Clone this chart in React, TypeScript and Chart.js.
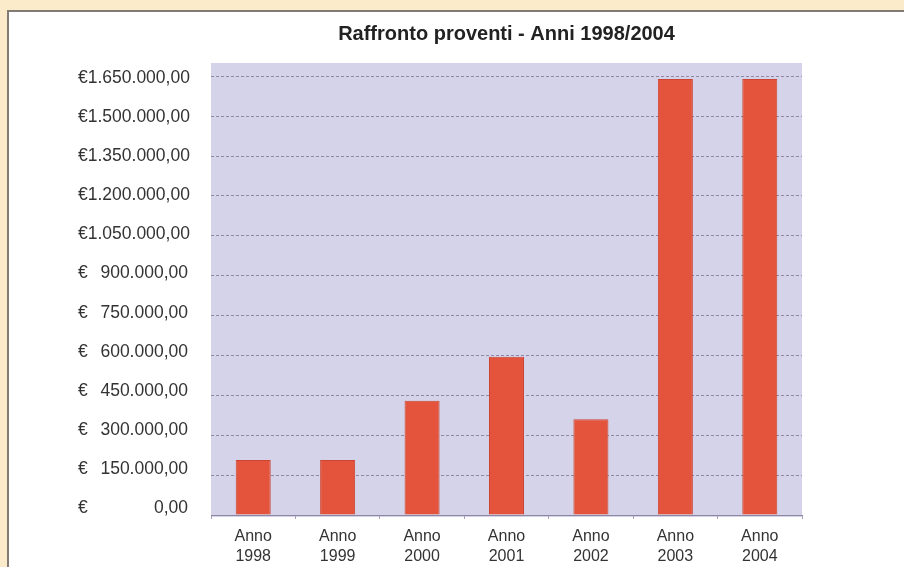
import React, { useEffect, useRef } from "react";
import { Chart, registerables } from "chart.js";

Chart.register(...registerables);

const TITLE = "Raffronto proventi - Anni 1998/2004";
const LABEL_PREFIX = "Anno";
const YEARS = ["1998", "1999", "2000", "2001", "2002", "2003", "2004"];
const VALUES = [207000, 207000, 430000, 595000, 360000, 1640000, 1640000];
const TICK_VALUES = [0, 150000, 300000, 450000, 600000, 750000, 900000, 1050000, 1200000, 1350000, 1500000, 1650000];
const Y_MAX = 1700000;
const LABEL_AXIS_MIN = -26900;
const LABEL_AXIS_MAX = 1708800;

const FONT = "'Liberation Sans', Arial, sans-serif";

function fmtIt(v: number): string {
  const s = Math.round(v).toString();
  return s.replace(/\B(?=(\d{3})+(?!\d))/g, ".") + ",00";
}

const setTicks = (scale: any) => {
  scale.ticks = TICK_VALUES.map((v) => ({ value: v }));
};

const plotBg = {
  id: "plotBg",
  beforeDraw(chart: any) {
    const { ctx, chartArea } = chart;
    if (!chartArea) return;
    ctx.save();
    ctx.fillStyle = "#d5d3e9";
    ctx.fillRect(chartArea.left, chartArea.top, chartArea.right - chartArea.left, chartArea.bottom - chartArea.top + 2);
    ctx.restore();
  },
};

export default function App() {
  const ref = useRef<HTMLCanvasElement | null>(null);

  useEffect(() => {
    if (!ref.current) return;
    const chart = new Chart(ref.current, {
      type: "bar",
      data: {
        labels: YEARS.map((y) => [LABEL_PREFIX, y]),
        datasets: [
          {
            data: VALUES,
            backgroundColor: "#e4533b",
            borderColor: "#cc4532",
            borderWidth: 1,
            barPercentage: 0.415,
            categoryPercentage: 1,
          },
        ],
      },
      options: {
        animation: false,
        responsive: false,
        layout: { padding: { left: 69, right: 102, top: 0, bottom: 0 } },
        plugins: {
          legend: { display: false },
          tooltip: { enabled: false },
          title: {
            display: true,
            text: TITLE,
            fullSize: false,
            align: "center",
            color: "#222222",
            font: { family: FONT, size: 20, weight: "bold", lineHeight: 1.2 },
            padding: { top: 10, bottom: 17 },
          },
        },
        scales: {
          x: {
            type: "category",
            grid: {
              display: true,
              drawOnChartArea: false,
              offset: true,
              tickLength: 4,
              color: "#a8a2b8",
            },
            border: { display: true, color: "#8d88a0" },
            ticks: {
              color: "#333333",
              font: { family: FONT, size: 16, lineHeight: 1.25 },
              padding: 8,
              maxRotation: 0,
              autoSkip: false,
            },
            afterFit: (s: any) => {
              s.height = 52;
            },
          },
          y: {
            type: "linear",
            position: "left",
            weight: 0,
            min: 0,
            max: Y_MAX,
            afterBuildTicks: setTicks,
            grid: { display: true, drawTicks: false, color: "#8f87a4", lineWidth: 1 },
            border: { display: false, dash: [3, 2] },
            ticks: { display: false },
            afterFit: (s: any) => {
              s.width = 0;
            },
          },
          yNum: {
            type: "linear",
            position: "left",
            weight: 1,
            min: LABEL_AXIS_MIN,
            max: LABEL_AXIS_MAX,
            afterBuildTicks: setTicks,
            grid: { display: false, drawTicks: false },
            border: { display: false },
            ticks: {
              color: "#333333",
              font: { family: FONT, size: 17.5 },
              padding: 23,
              callback: (value: any) => (Number(value) >= 1000000 ? "" : fmtIt(Number(value))),
            },
            afterFit: (s: any) => {
              s.width = 121;
            },
          },
          yEur: {
            type: "linear",
            position: "left",
            weight: 2,
            min: LABEL_AXIS_MIN,
            max: LABEL_AXIS_MAX,
            afterBuildTicks: setTicks,
            grid: { display: false, drawTicks: false },
            border: { display: false },
            ticks: {
              color: "#333333",
              font: { family: FONT, size: 17.5 },
              mirror: true,
              crossAlign: "near",
              padding: -12,
              callback: (value: any) => (Number(value) >= 1000000 ? "€" + fmtIt(Number(value)) : "€"),
            },
            afterFit: (s: any) => {
              s.width = 12;
            },
          },
        },
      } as any,
      plugins: [plotBg],
    });
    return () => chart.destroy();
  }, []);

  return (
    <div
      style={{
        position: "absolute",
        left: 0,
        top: 0,
        width: 904,
        height: 567,
        overflow: "hidden",
        background: "#fcebcb",
      }}
    >
      <div
        style={{
          position: "absolute",
          left: 7,
          top: 10,
          width: 920,
          height: 580,
          borderLeft: "2px solid #827b73",
          borderTop: "2px solid #827b73",
          background: "#ffffff",
        }}
      >
        <canvas ref={ref} width={895} height={555} style={{ display: "block" }} />
      </div>
    </div>
  );
}
